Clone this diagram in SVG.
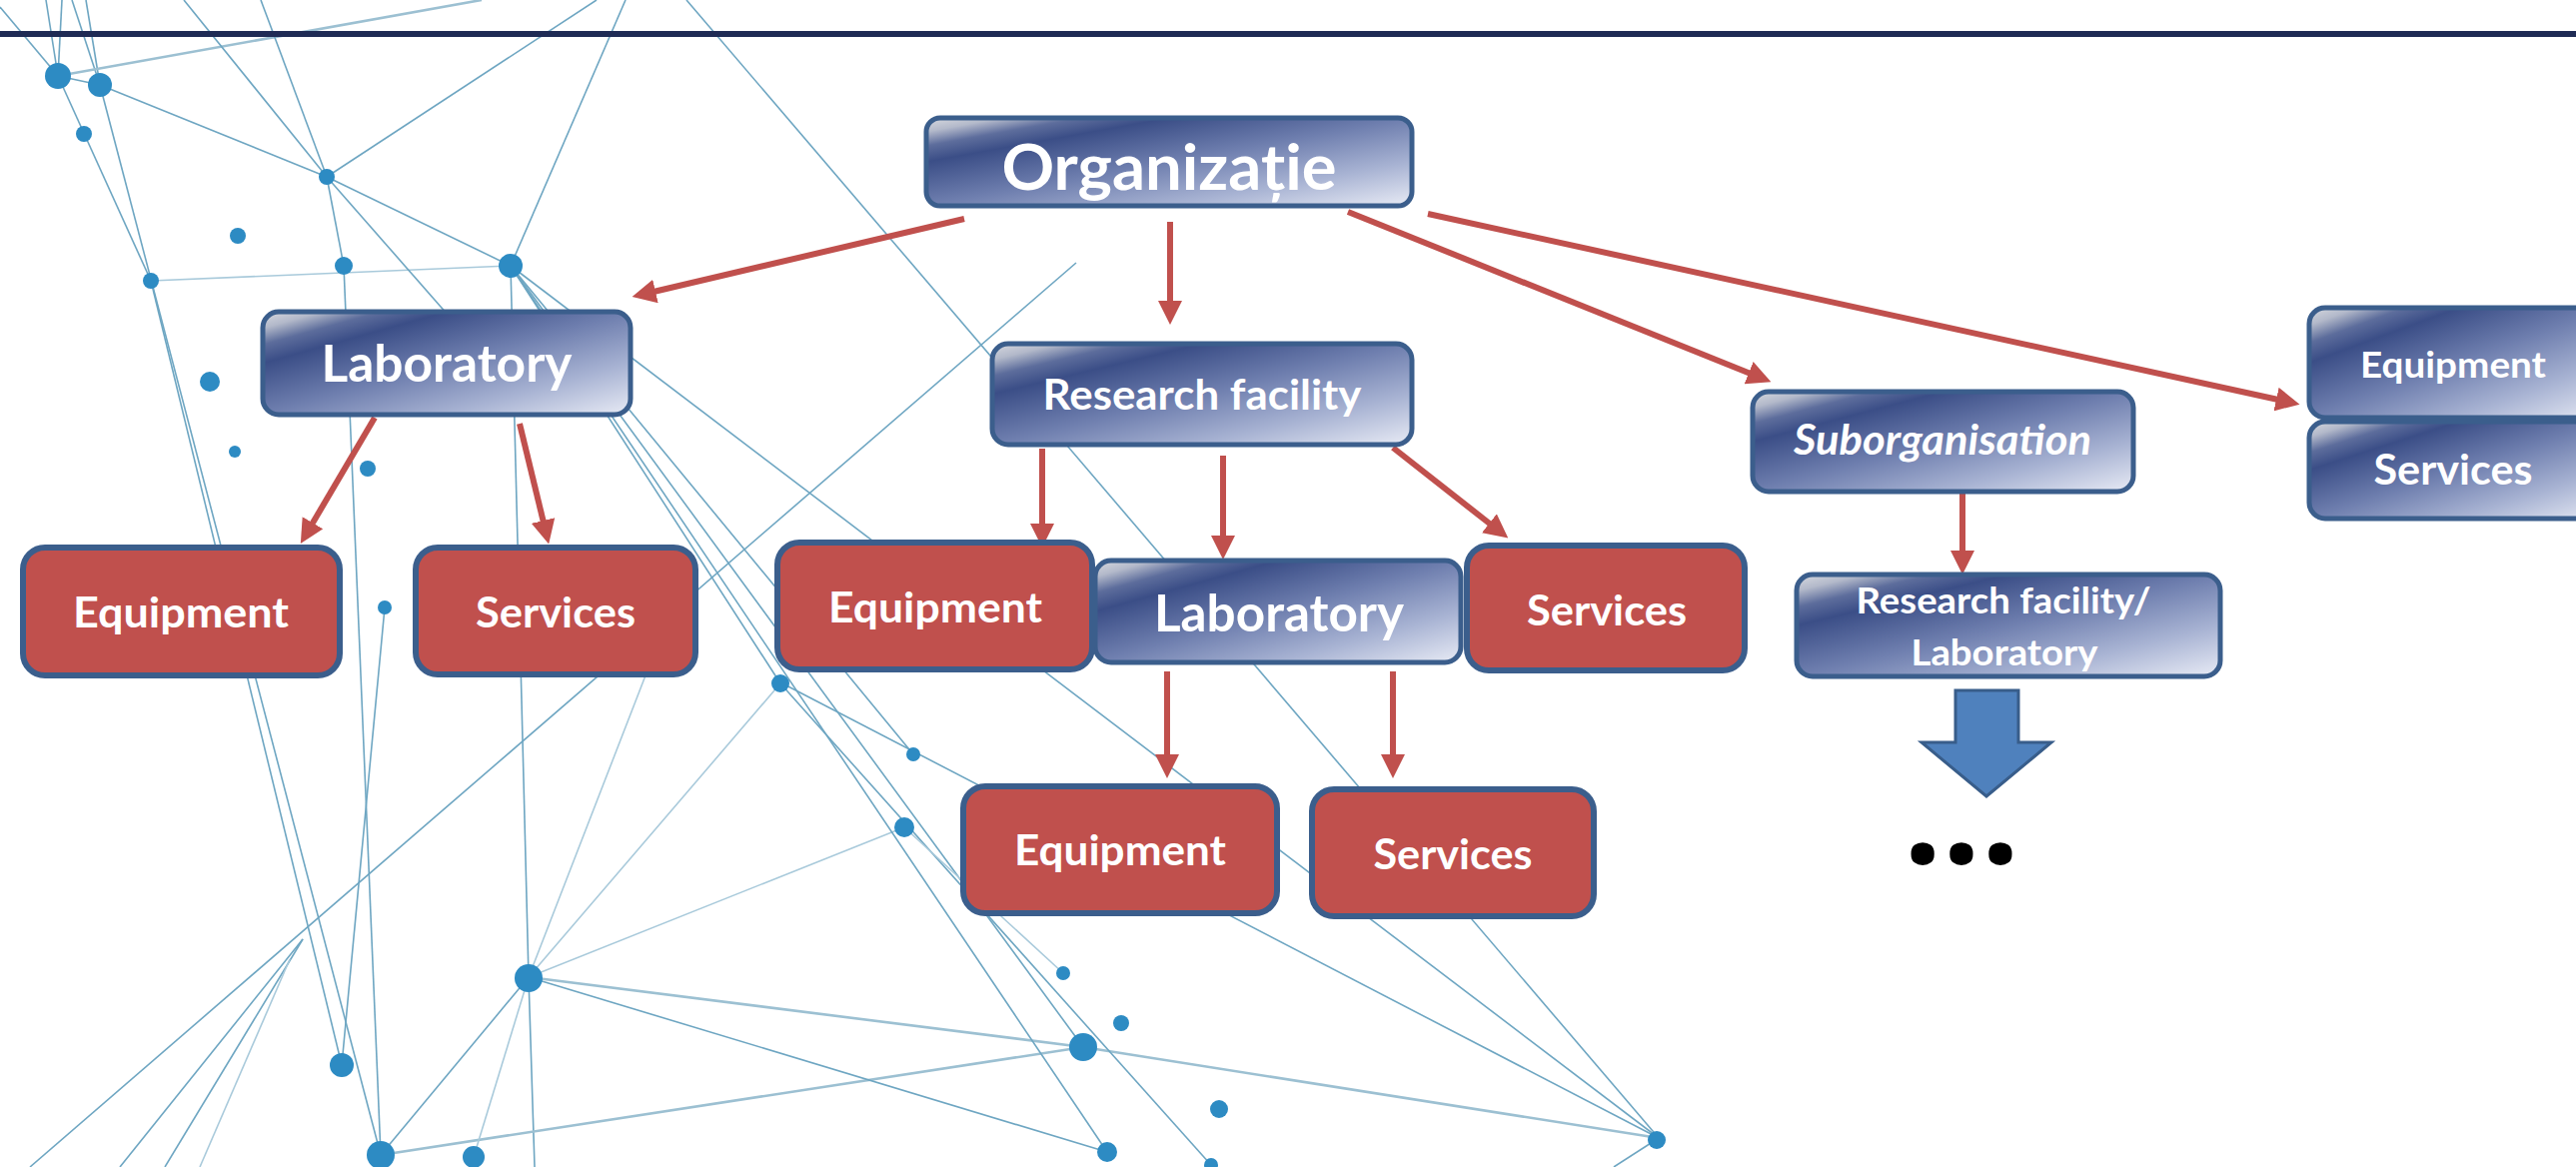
<svg xmlns="http://www.w3.org/2000/svg" width="2578" height="1168" viewBox="0 0 2578 1168">
<style>
.net{stroke:#6ea6c2;stroke-width:1.6;fill:none}
.netl{stroke:#a9cadb;stroke-width:1.6;fill:none}
.netd{stroke:#9cc0d2;stroke-width:2.6;fill:none}
.dot{fill:#2d8bc3}
.bn{fill:url(#blueGrad);stroke:#3b5e8c;stroke-width:5}
.rn{fill:#c0504d;stroke:#3b5e8c;stroke-width:6}
.t{font-family:Lato,"Open Sans","Liberation Sans",sans-serif;font-weight:bold;fill:#ffffff;text-anchor:middle}
.conn{stroke:#c0504d;stroke-width:6;fill:none;marker-end:url(#ah)}
</style>
<defs>
<linearGradient id="blueGrad" x1="0" y1="0" x2="1" y2="1">
<stop offset="0" stop-color="#d8dae0"/>
<stop offset="0.08" stop-color="#b3b9ca"/>
<stop offset="0.16" stop-color="#5d6d9c"/>
<stop offset="0.25" stop-color="#3b4e87"/>
<stop offset="0.5" stop-color="#6f7faf"/>
<stop offset="0.75" stop-color="#a8b3d3"/>
<stop offset="1" stop-color="#e8ebf5"/>
</linearGradient>
<marker id="ah" markerUnits="userSpaceOnUse" viewBox="0 0 24 24" markerWidth="24" markerHeight="24" refX="2" refY="12" orient="auto">
<path d="M0,0 L24,12 L0,24 z" fill="#c0504d"/>
</marker>
</defs>
<rect x="0" y="0" width="2578" height="1168" fill="#ffffff"/>

<g id="network">
<line class="net" x1="0" y1="7" x2="58" y2="76"/>
<line class="net" x1="46" y1="0" x2="58" y2="76"/>
<line class="net" x1="62" y1="0" x2="58" y2="76"/>
<line class="net" x1="72" y1="0" x2="100" y2="85"/>
<line class="net" x1="86" y1="0" x2="100" y2="85"/>
<line class="net" x1="58" y1="76" x2="100" y2="85"/>
<line class="netd" x1="58" y1="76" x2="482" y2="0"/>
<line class="net" x1="100" y1="85" x2="327" y2="177"/>
<line class="net" x1="327" y1="177" x2="511" y2="266"/>
<line class="net" x1="327" y1="177" x2="184" y2="0"/>
<line class="net" x1="327" y1="177" x2="261" y2="0"/>
<line class="net" x1="327" y1="177" x2="597" y2="0"/>
<line class="net" x1="511" y1="266" x2="626" y2="0"/>
<line class="netl" x1="151" y1="281" x2="511" y2="266"/>
<line class="net" x1="58" y1="76" x2="151" y2="281"/>
<line class="net" x1="100" y1="85" x2="381" y2="1156"/>
<line class="net" x1="151" y1="281" x2="342" y2="1066"/>
<line class="net" x1="327" y1="177" x2="344" y2="266"/>
<line class="net" x1="344" y1="266" x2="381" y2="1156"/>
<line class="net" x1="327" y1="177" x2="470" y2="340"/>
<line class="net" x1="511" y1="266" x2="529" y2="978"/>
<line class="net" x1="529" y1="978" x2="535" y2="1168"/>
<line class="net" x1="1077" y1="263" x2="30" y2="1168"/>
<line class="net" x1="687" y1="0" x2="1660" y2="1139"/>
<line class="net" x1="511" y1="266" x2="1660" y2="1139"/>
<line class="net" x1="783" y1="684" x2="1660" y2="1139"/>
<line class="netd" x1="1084" y1="1048" x2="1660" y2="1139"/>
<line class="net" x1="1660" y1="1139" x2="1615" y2="1168"/>
<line class="netd" x1="529" y1="978" x2="1084" y2="1048"/>
<line class="netd" x1="381" y1="1156" x2="1084" y2="1048"/>
<line class="net" x1="529" y1="978" x2="1108" y2="1153"/>
<line class="netl" x1="529" y1="978" x2="905" y2="828"/>
<line class="net" x1="529" y1="978" x2="381" y2="1156"/>
<line class="netl" x1="529" y1="978" x2="474" y2="1158"/>
<line class="netl" x1="529" y1="978" x2="781" y2="684"/>
<line class="netl" x1="529" y1="978" x2="660" y2="640"/>
<line class="net" x1="511" y1="266" x2="781" y2="684"/>
<line class="net" x1="511" y1="266" x2="1108" y2="1153"/>
<line class="net" x1="511" y1="266" x2="914" y2="755"/>
<line class="net" x1="511" y1="266" x2="1084" y2="1048"/>
<line class="net" x1="781" y1="684" x2="1212" y2="1166"/>
<line class="net" x1="303" y1="940" x2="120" y2="1168"/>
<line class="net" x1="303" y1="940" x2="165" y2="1168"/>
<line class="netl" x1="290" y1="960" x2="200" y2="1168"/>
<line class="net" x1="385" y1="608" x2="342" y2="1066"/>
<line class="netl" x1="1064" y1="974" x2="905" y2="828"/>
</g>

<g id="dots">
<circle class="dot" cx="58" cy="76" r="13"/>
<circle class="dot" cx="100" cy="85" r="12"/>
<circle class="dot" cx="84" cy="134" r="8"/>
<circle class="dot" cx="327" cy="177" r="8"/>
<circle class="dot" cx="238" cy="236" r="8"/>
<circle class="dot" cx="344" cy="266" r="9"/>
<circle class="dot" cx="511" cy="266" r="12"/>
<circle class="dot" cx="151" cy="281" r="8"/>
<circle class="dot" cx="210" cy="382" r="10"/>
<circle class="dot" cx="235" cy="452" r="6"/>
<circle class="dot" cx="368" cy="469" r="8"/>
<circle class="dot" cx="385" cy="608" r="7"/>
<circle class="dot" cx="781" cy="684" r="9"/>
<circle class="dot" cx="914" cy="755" r="7"/>
<circle class="dot" cx="905" cy="828" r="10"/>
<circle class="dot" cx="529" cy="979" r="14"/>
<circle class="dot" cx="342" cy="1066" r="12"/>
<circle class="dot" cx="381" cy="1156" r="14"/>
<circle class="dot" cx="474" cy="1158" r="11"/>
<circle class="dot" cx="1064" cy="974" r="7"/>
<circle class="dot" cx="1122" cy="1024" r="8"/>
<circle class="dot" cx="1084" cy="1048" r="14"/>
<circle class="dot" cx="1220" cy="1110" r="9"/>
<circle class="dot" cx="1108" cy="1153" r="10"/>
<circle class="dot" cx="1212" cy="1166" r="7"/>
<circle class="dot" cx="1658" cy="1141" r="9"/>
</g>

<rect id="topline" x="0" y="31" width="2578" height="6" fill="#1f2b55"/>

<g id="connectors">
<line class="conn" x1="965" y1="219" x2="654" y2="292"/>
<line class="conn" x1="1171" y1="222" x2="1171" y2="303"/>
<line class="conn" x1="1349" y1="212" x2="1752" y2="374"/>
<line class="conn" x1="1429" y1="214" x2="2280" y2="400"/>
<line class="conn" x1="375" y1="418" x2="312" y2="525"/>
<line class="conn" x1="520" y1="424" x2="544" y2="523"/>
<line class="conn" x1="1043" y1="449" x2="1043" y2="526"/>
<line class="conn" x1="1224" y1="456" x2="1224" y2="538"/>
<line class="conn" x1="1394" y1="448" x2="1492" y2="525"/>
<line class="conn" x1="1168" y1="672" x2="1168" y2="757"/>
<line class="conn" x1="1394" y1="672" x2="1394" y2="757"/>
<line class="conn" x1="1964" y1="494" x2="1964" y2="553"/>
</g>

<g id="organizatie">
<rect class="bn" x="927" y="118" width="486" height="88" rx="14"/>
<text class="t" x="1170" y="190" font-size="64" textLength="335" lengthAdjust="spacingAndGlyphs">Organizație</text>
</g>
<g id="laboratory-left">
<rect class="bn" x="263" y="312" width="368" height="103" rx="16"/>
<text class="t" x="447" y="382" font-size="51" textLength="251" lengthAdjust="spacingAndGlyphs">Laboratory</text>
</g>
<g id="research-facility">
<rect class="bn" x="993" y="344" width="420" height="101" rx="16"/>
<text class="t" x="1203" y="410" font-size="42" textLength="319" lengthAdjust="spacingAndGlyphs">Research facility</text>
</g>
<g id="laboratory-mid">
<rect class="bn" x="1096" y="561" width="366" height="102" rx="16"/>
<text class="t" x="1280" y="632" font-size="51" textLength="250" lengthAdjust="spacingAndGlyphs">Laboratory</text>
</g>
<g id="suborganisation">
<rect class="bn" x="1754" y="392" width="381" height="100" rx="16"/>
<text class="t" x="1944" y="455" font-size="42" font-style="italic" textLength="298" lengthAdjust="spacingAndGlyphs">Suborganisation</text>
</g>
<g id="research-facility-laboratory">
<rect class="bn" x="1798" y="575" width="424" height="102" rx="16"/>
<text class="t" x="2005" y="614" font-size="37" textLength="295" lengthAdjust="spacingAndGlyphs">Research facility/</text>
<text class="t" x="2006" y="666" font-size="37" textLength="187" lengthAdjust="spacingAndGlyphs">Laboratory</text>
</g>
<g id="equipment-right">
<rect class="bn" x="2311" y="308" width="300" height="110" rx="16"/>
<text class="t" x="2455" y="378" font-size="37" textLength="186" lengthAdjust="spacingAndGlyphs">Equipment</text>
</g>
<g id="services-right">
<rect class="bn" x="2311" y="422" width="300" height="97" rx="16"/>
<text class="t" x="2455" y="485" font-size="42" textLength="159" lengthAdjust="spacingAndGlyphs">Services</text>
</g>
<g id="equipment-left">
<rect class="rn" x="23" y="548" width="317" height="128" rx="22"/>
<text class="t" x="181" y="628" font-size="42" textLength="216" lengthAdjust="spacingAndGlyphs">Equipment</text>
</g>
<g id="services-left">
<rect class="rn" x="416" y="548" width="280" height="127" rx="22"/>
<text class="t" x="556" y="628" font-size="42" textLength="160" lengthAdjust="spacingAndGlyphs">Services</text>
</g>
<g id="equipment-mid">
<rect class="rn" x="778" y="543" width="315" height="127" rx="22"/>
<text class="t" x="936" y="623" font-size="42" textLength="214" lengthAdjust="spacingAndGlyphs">Equipment</text>
</g>
<g id="services-mid">
<rect class="rn" x="1468" y="546" width="278" height="125" rx="22"/>
<text class="t" x="1608" y="626" font-size="42" textLength="160" lengthAdjust="spacingAndGlyphs">Services</text>
</g>
<g id="equipment-bottom">
<rect class="rn" x="964" y="787" width="314" height="127" rx="22"/>
<text class="t" x="1121" y="866" font-size="42" textLength="212" lengthAdjust="spacingAndGlyphs">Equipment</text>
</g>
<g id="services-bottom">
<rect class="rn" x="1313" y="790" width="282" height="127" rx="22"/>
<text class="t" x="1454" y="870" font-size="42" textLength="159" lengthAdjust="spacingAndGlyphs">Services</text>
</g>
<g id="more-arrow">
<polygon points="1957,691 2020,691 2020,743 2053,743 1988,797 1923,743 1957,743" fill="#4f81bd" stroke="#385d8a" stroke-width="3"/>
</g>
<g id="ellipsis">
<text x="1963" y="864" font-family="'Open Sans','Noto Sans',sans-serif" font-weight="bold" font-size="136" text-anchor="middle" fill="#000000">...</text>
</g>
</svg>
